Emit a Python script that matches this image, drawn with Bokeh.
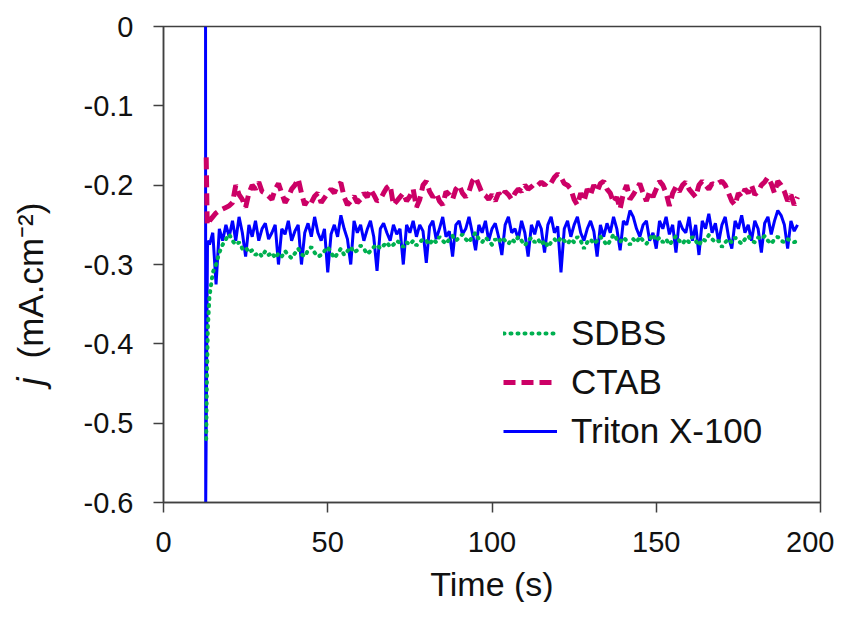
import numpy as np
from bokeh.plotting import figure
from bokeh.models import Range1d, FixedTicker, Legend, LegendItem
from bokeh.layouts import row, column
from bokeh.core.properties import value
from bokeh.embed import file_html
from bokeh.resources import INLINE

# ---------------- data ----------------
t_main = list(range(14, 194))

sdbs_t0 = [13.0, 13.2, 13.5]
sdbs_v0 = [-0.52, -0.45, -0.38]
sdbs_v = [-0.34, -0.31, -0.30, -0.285, -0.275, -0.268, -0.262, -0.27, -0.275, -0.272,
          -0.28, -0.278, -0.285, -0.282, -0.288, -0.285, -0.29, -0.283, -0.288, -0.285,
          -0.292, -0.286, -0.29, -0.283, -0.288, -0.292, -0.286, -0.28, -0.287, -0.29,
          -0.282, -0.278, -0.285, -0.29, -0.288, -0.283, -0.278, -0.285, -0.292, -0.286,
          -0.28, -0.288, -0.283, -0.278, -0.285, -0.282, -0.276, -0.28, -0.287, -0.283,
          -0.278, -0.275, -0.28, -0.276, -0.272, -0.278, -0.275, -0.27, -0.273, -0.278,
          -0.272, -0.275, -0.27, -0.276, -0.272, -0.268, -0.27, -0.275, -0.268, -0.272,
          -0.265, -0.27, -0.274, -0.268, -0.264, -0.27, -0.266, -0.262, -0.268, -0.272,
          -0.265, -0.26, -0.268, -0.272, -0.266, -0.27, -0.275, -0.268, -0.272, -0.266,
          -0.27, -0.274, -0.268, -0.272, -0.265, -0.27, -0.276, -0.27, -0.266, -0.272,
          -0.268, -0.275, -0.27, -0.278, -0.272, -0.268, -0.272, -0.266, -0.27, -0.274,
          -0.268, -0.272, -0.265, -0.27, -0.28, -0.272, -0.268, -0.274, -0.27, -0.265,
          -0.27, -0.276, -0.27, -0.262, -0.268, -0.272, -0.266, -0.27, -0.275, -0.268,
          -0.272, -0.265, -0.27, -0.274, -0.268, -0.262, -0.27, -0.266, -0.272, -0.268,
          -0.275, -0.27, -0.264, -0.27, -0.274, -0.268, -0.272, -0.265, -0.27, -0.276,
          -0.268, -0.27, -0.263, -0.268, -0.272, -0.27, -0.278, -0.272, -0.268, -0.272,
          -0.266, -0.27, -0.274, -0.268, -0.264, -0.27, -0.272, -0.266, -0.268, -0.264,
          -0.27, -0.274, -0.268, -0.265, -0.27, -0.272, -0.268, -0.27, -0.272, -0.27]

ctab_t0 = [13.0, 13.3]
ctab_v0 = [-0.165, -0.25]
ctab_v = [-0.245, -0.24, -0.235, -0.232, -0.23, -0.228, -0.226, -0.222, -0.2, -0.212,
          -0.218, -0.228, -0.21, -0.2, -0.205, -0.196, -0.208, -0.21, -0.214, -0.218,
          -0.205, -0.198, -0.21, -0.222, -0.215, -0.205, -0.2, -0.192, -0.21, -0.225,
          -0.218, -0.222, -0.214, -0.21, -0.222, -0.216, -0.21, -0.205, -0.21, -0.2,
          -0.197, -0.215, -0.225, -0.22, -0.214, -0.222, -0.218, -0.21, -0.215, -0.205,
          -0.212, -0.22, -0.218, -0.21, -0.203, -0.2, -0.225, -0.22, -0.215, -0.21,
          -0.22, -0.214, -0.205, -0.228, -0.218, -0.2, -0.195, -0.208, -0.215, -0.21,
          -0.22, -0.225, -0.208, -0.212, -0.218, -0.205, -0.2, -0.21, -0.215, -0.208,
          -0.195, -0.19, -0.2, -0.21, -0.213, -0.218, -0.212, -0.22, -0.21, -0.215,
          -0.208, -0.212, -0.218, -0.21, -0.205, -0.208, -0.2, -0.205, -0.202, -0.198,
          -0.2, -0.196, -0.2, -0.195, -0.197, -0.19, -0.186, -0.19, -0.198, -0.2,
          -0.205, -0.218, -0.225, -0.21, -0.22, -0.205, -0.212, -0.2, -0.208, -0.198,
          -0.195, -0.205, -0.21, -0.222, -0.215, -0.23, -0.21, -0.2, -0.218, -0.212,
          -0.205, -0.198, -0.21, -0.22, -0.208, -0.215, -0.205, -0.195, -0.2, -0.21,
          -0.226, -0.21, -0.202, -0.208, -0.2, -0.196, -0.205, -0.21, -0.215, -0.2,
          -0.195, -0.2, -0.205, -0.198, -0.2, -0.197, -0.195, -0.2, -0.21, -0.22,
          -0.225, -0.21, -0.215, -0.205, -0.21, -0.2, -0.212, -0.208, -0.2, -0.196,
          -0.19, -0.198, -0.21, -0.195, -0.2, -0.208, -0.22, -0.212, -0.225, -0.215]

triton_t0 = [12.8, 12.85, 13.4]
triton_v0 = [0.0, -0.6, -0.27]
triton_v = [-0.275, -0.26, -0.325, -0.255, -0.27, -0.25, -0.265, -0.245, -0.27, -0.24,
            -0.26, -0.29, -0.25, -0.265, -0.245, -0.27, -0.255, -0.248, -0.268, -0.26,
            -0.25, -0.3, -0.255, -0.262, -0.245, -0.27, -0.258, -0.25, -0.3, -0.26,
            -0.248, -0.265, -0.24, -0.26, -0.27, -0.255, -0.31, -0.262, -0.25, -0.265,
            -0.238, -0.255, -0.268, -0.3, -0.245, -0.26, -0.25, -0.27, -0.256, -0.245,
            -0.265, -0.308, -0.255, -0.248, -0.26, -0.27, -0.25, -0.262, -0.255, -0.3,
            -0.25, -0.26, -0.245, -0.265, -0.25, -0.258, -0.298, -0.252, -0.245, -0.268,
            -0.255, -0.24, -0.265, -0.258, -0.29, -0.25, -0.245, -0.262, -0.255, -0.24,
            -0.26, -0.282, -0.25, -0.26, -0.245, -0.27, -0.255, -0.248, -0.265, -0.288,
            -0.25, -0.24, -0.26, -0.255, -0.268, -0.245, -0.26, -0.29, -0.25, -0.262,
            -0.245, -0.255, -0.285, -0.25, -0.24, -0.26, -0.252, -0.31, -0.255, -0.245,
            -0.265, -0.25, -0.24, -0.26, -0.27, -0.255, -0.245, -0.258, -0.29, -0.25,
            -0.265, -0.248, -0.26, -0.24, -0.255, -0.282, -0.245, -0.25, -0.232, -0.24,
            -0.255, -0.265, -0.25, -0.245, -0.27, -0.26, -0.28, -0.245, -0.255, -0.24,
            -0.262, -0.25, -0.285, -0.245, -0.255, -0.26, -0.24, -0.27, -0.25, -0.288,
            -0.245, -0.255, -0.236, -0.26, -0.248, -0.272, -0.25, -0.24, -0.265, -0.28,
            -0.245, -0.255, -0.238, -0.26, -0.25, -0.27, -0.245, -0.255, -0.285, -0.248,
            -0.24, -0.262, -0.245, -0.232, -0.238, -0.25, -0.28, -0.245, -0.258, -0.25]

series_names = ["SDBS", "CTAB", "Triton X-100"]
y_ticks = [0.0, -0.1, -0.2, -0.3, -0.4, -0.5, -0.6]
y_tick_labels = ["0", "-0.1", "-0.2", "-0.3", "-0.4", "-0.5", "-0.6"]
x_ticks = [0, 50, 100, 150, 200]
x_title = "Time (s)"
y_title_var = "j"
y_title_unit = "(mA.cm\u207b\u00b2)"

# ---------------- styling constants ----------------
FONT = "Liberation Sans"
AX = "#404040"
TXT = "#111111"
LEFT_W = 60          # strip holding the y-axis title
MAIN_W = 774
MAIN_H = 564
BOTTOM_H = 38        # strip holding the x-axis title


def blank_strip(w, h, x_range=None, **kw):
    f = figure(width=w, height=h, output_backend="svg", toolbar_location=None,
               x_range=x_range if x_range is not None else Range1d(0, w),
               y_range=Range1d(0, h), x_axis_type=None, y_axis_type=None, **kw)
    f.title.visible = False
    f.outline_line_color = None
    f.grid.visible = False
    f.background_fill_color = "white"
    f.border_fill_color = "white"
    return f


# ---------------- main figure ----------------
p = figure(width=MAIN_W, height=MAIN_H, output_backend="svg", toolbar_location=None,
           x_range=Range1d(0, 200), y_range=Range1d(-0.6, 0.0),
           min_border_left=163 - LEFT_W, min_border_right=14, min_border_top=26,
           min_border_bottom=MAIN_H - 502)
p.background_fill_color = "white"
p.border_fill_color = "white"
p.grid.visible = False
p.outline_line_color = AX
p.outline_line_width = 1.5

for ax in (p.xaxis[0], p.yaxis[0]):
    ax.axis_line_color = AX
    ax.axis_line_width = 1.5
    ax.major_tick_line_color = AX
    ax.major_tick_line_width = 1.5
    ax.major_tick_in = 0
    ax.major_tick_out = 10
    ax.minor_tick_line_color = None
    ax.major_label_text_font = FONT
    ax.major_label_text_font_size = "29px"
    ax.major_label_text_color = TXT

p.xaxis.major_label_standoff = 19
p.yaxis.major_label_standoff = 20
p.xaxis.ticker = FixedTicker(ticks=x_ticks)
p.yaxis.ticker = FixedTicker(ticks=y_ticks)
p.yaxis.major_label_overrides = {v: s for v, s in zip(y_ticks, y_tick_labels)}

r_tri = p.line(triton_t0 + t_main, triton_v0 + triton_v, line_color="#0000FF", line_width=3)
r_ctab = p.line(ctab_t0 + t_main, ctab_v0 + ctab_v, line_color="#CC0066", line_width=5,
                line_dash="12 6")
r_sdbs = p.line(sdbs_t0 + t_main, sdbs_v0 + sdbs_v, line_color="#00B050", line_width=4,
                line_dash="1 6", line_cap="round")

legend = Legend(items=[LegendItem(label=series_names[0], renderers=[r_sdbs]),
                       LegendItem(label=series_names[1], renderers=[r_ctab]),
                       LegendItem(label=series_names[2], renderers=[r_tri])],
                location=(340, 51), padding=0, margin=0, spacing=9,
                glyph_width=54, glyph_height=40, label_height=40,
                label_standoff=14, label_text_font=FONT,
                label_text_font_size="35px", label_text_color=TXT,
                border_line_color=None, background_fill_alpha=0)
p.add_layout(legend, "center")

# ---------------- y-axis title strip ----------------
left = blank_strip(LEFT_W, MAIN_H + BOTTOM_H, min_border=0)
left.text(x=[30], y=[217], text=[y_title_var], angle=np.pi / 2,
          text_font=value(FONT), text_font_style="italic", text_font_size="36px",
          text_align="left", text_baseline="middle", text_color=TXT)
left.text(x=[30], y=[244], text=[y_title_unit], angle=np.pi / 2,
          text_font=value(FONT), text_font_size="35px",
          text_align="left", text_baseline="middle", text_color=TXT)

# ---------------- x-axis title strip (shares the main x scale) ----------------
bottom = blank_strip(MAIN_W, BOTTOM_H, x_range=p.x_range,
                     min_border_left=163 - LEFT_W, min_border_right=14,
                     min_border_top=0, min_border_bottom=0)
x_mid = (x_ticks[0] + x_ticks[-1]) / 2
bottom.text(x=[x_mid], y=[19], text=[x_title],
            text_font=value(FONT), text_font_size="34px",
            text_align="center", text_baseline="middle", text_color=TXT)

layout = row(left, column(p, bottom, spacing=0), spacing=0)

open("out.html", "w").write(file_html(layout, INLINE))
